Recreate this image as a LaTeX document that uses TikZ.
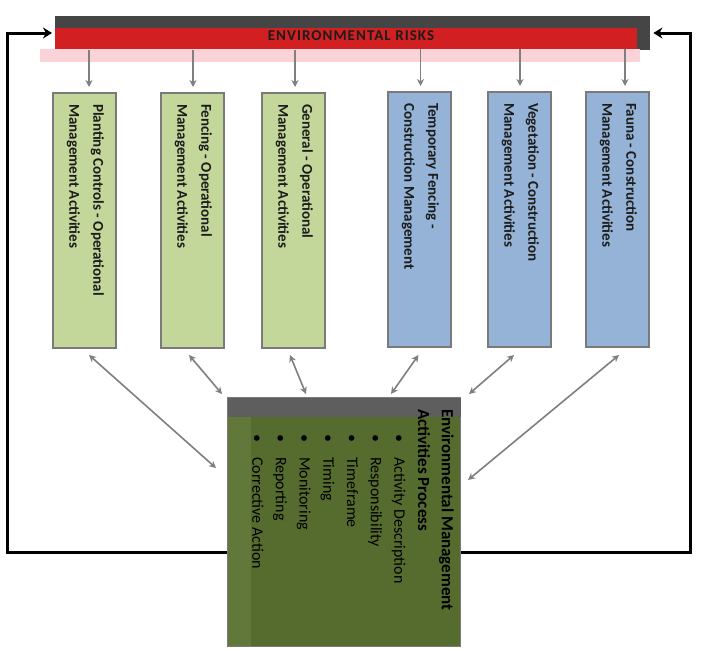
\documentclass[tikz,border=0pt]{standalone}
\usepackage{fontspec}
\setmainfont{Carlito}
\usetikzlibrary{arrows.meta,calc}
\definecolor{boxgreen}{HTML}{C4D79B}
\definecolor{boxblue}{HTML}{95B3D7}
\definecolor{olivebox}{HTML}{566C2E}
\definecolor{olivelight}{HTML}{61783A}
\definecolor{stripgrey}{HTML}{5E5E5E}
\definecolor{riskred}{HTML}{D21F22}
\definecolor{darkbar}{HTML}{454545}
\definecolor{pinkband}{HTML}{F9D3D8}
\definecolor{arrowgrey}{HTML}{7F7F7F}
\definecolor{boxborder}{HTML}{7A7A7A}
\definecolor{textdark}{HTML}{1C1C1C}
\begin{document}
\begin{tikzpicture}[x=1pt,y=-1pt,
  actbox/.style={draw=boxborder, line width=2pt, anchor=north west, minimum width=63pt, minimum height=255pt, inner sep=0pt},
  boxtext/.style={rotate=-90, anchor=north west, align=left, inner sep=0pt, text=textdark, font=\fontsize{15}{24}\selectfont\bfseries},
  downarrow/.style={draw=arrowgrey, line width=1.6pt, -{Stealth[length=7pt,width=7pt]}},
  botharrow/.style={draw=arrowgrey, line width=1.6pt, {Stealth[length=7pt,width=7pt]}-{Stealth[length=7pt,width=7pt]}},
  loopline/.style={draw=black, line width=3pt, -{Stealth[length=9pt,width=11pt]}}]
\useasboundingbox[fill=white] (0,0) rectangle (706,648);

% ---- environmental risks bar ----
\node[fill=darkbar, anchor=north west, minimum width=595pt, minimum height=34pt, inner sep=0pt] (dark) at (55,16) {};
\fill[pinkband] (40,49) rectangle (640,62);
\node[fill=riskred, anchor=north west, minimum width=582pt, minimum height=21pt, inner sep=0pt] (risk) at (55,28) {};
\node[text=textdark, font=\fontsize{15}{16}\selectfont\bfseries\addfontfeature{LetterSpace=7}] (risktext) at (351,36) {ENVIRONMENTAL RISKS};

% ---- activity boxes ----
\node[actbox, fill=boxgreen] (b1) at (52,92) {};
\node[actbox, fill=boxgreen] (b2) at (160,92) {};
\node[actbox, fill=boxgreen] (b3) at (261,92) {};
\node[actbox, fill=boxblue] (b4) at (387,91) {};
\node[actbox, fill=boxblue] (b5) at (487,91) {};
\node[actbox, fill=boxblue] (b6) at (585,91) {};

\node[boxtext] (t1) at ($(b1.north east)+(-13,12)$) {Planting Controls - Operational\\Management Activities};
\node[boxtext] (t2) at ($(b2.north east)+(-13,12)$) {Fencing - Operational\\Management Activities};
\node[boxtext] (t3) at ($(b3.north east)+(-13,12)$) {General - Operational\\Management Activities};
\node[boxtext] (t4) at ($(b4.north east)+(-13,12)$) {Temporary Fencing -\\Construction Management};
\node[boxtext] (t5) at ($(b5.north east)+(-13,12)$) {Vegetation - Construction\\Management Activities};
\node[boxtext] (t6) at ($(b6.north east)+(-13,12)$) {Fauna - Construction\\Management Activities};

% ---- central process box ----
\node[fill=olivebox, draw=boxborder, line width=1pt, anchor=north west, minimum width=233pt, minimum height=249pt, inner sep=0pt] (cbox) at (227,397) {};
\fill[olivelight] ($(cbox.north west)+(1,1)$) rectangle ($(cbox.south west)+(24,-1)$);
\fill[stripgrey] ($(cbox.north west)+(0.5,0.5)$) rectangle ($(cbox.north east)+(-0.5,20)$);
\node[rotate=-90, anchor=north west, align=left, inner sep=0pt, text=black, font=\fontsize{16}{23.7}\selectfont] (ctext) at ($(cbox.north east)+(-7,12)$)
 {{\fontsize{17}{23.7}\selectfont\bfseries Environmental Management}\\
  {\fontsize{17}{23.7}\selectfont\bfseries Activities Process}\\
  \hspace*{25pt}\textbullet\hspace*{15pt}Activity Description\\
  \hspace*{25pt}\textbullet\hspace*{15pt}Responsibility\\
  \hspace*{25pt}\textbullet\hspace*{15pt}Timeframe\\
  \hspace*{25pt}\textbullet\hspace*{15pt}Timing\\
  \hspace*{25pt}\textbullet\hspace*{15pt}Monitoring\\
  \hspace*{25pt}\textbullet\hspace*{15pt}Reporting\\
  \hspace*{25pt}\textbullet\hspace*{15pt}Corrective Action};

% ---- arrows from the risk bar to the boxes ----
\foreach \i/\dx in {1/4.5, 2/0.5, 3/1.5, 4/1, 5/0.5, 6/7.5}{
  \coordinate (d\i) at ($(b\i.north)+(\dx,-42)$);
  \draw[downarrow] (d\i) -- ($(b\i.north)+(\dx,-5)$);
}

% ---- double arrows between boxes and the central box ----
\coordinate (e1) at ($(cbox.north west)+(-11,71)$);
\coordinate (e2) at ($(cbox.north west)+(-5,-3)$);
\coordinate (e3) at ($(cbox.north west)+(79,-3)$);
\coordinate (e4) at ($(cbox.north west)+(164,-3)$);
\coordinate (e5) at ($(cbox.north east)+(8,-3)$);
\coordinate (e6) at ($(cbox.north east)+(7,83)$);
\draw[botharrow] ($(b1.south)+(4.5,6)$) -- (e1);
\draw[botharrow] ($(b2.south)+(-3.5,6)$) -- (e2);
\draw[botharrow] ($(b3.south)+(-3.5,6)$) -- (e3);
\draw[botharrow] ($(b4.south)+(-1,7)$) -- (e4);
\draw[botharrow] ($(b5.south)+(-5.5,7)$) -- (e5);
\draw[botharrow] ($(b6.south)+(1.5,7)$) -- (e6);

% ---- feedback loops ----
\coordinate (L1) at (7,552);
\coordinate (L2) at (7,33);
\coordinate (R1) at (690,552);
\coordinate (R2) at (690,33);
\draw[loopline] (cbox.west |- L1) -- (L1) -- (L2) -- ($(dark.west |- L2)+(-3,0)$);
\draw[loopline] (cbox.east |- R1) -- (R1) -- (R2) -- ($(dark.east |- R2)+(3,0)$);
\end{tikzpicture}
\end{document}
